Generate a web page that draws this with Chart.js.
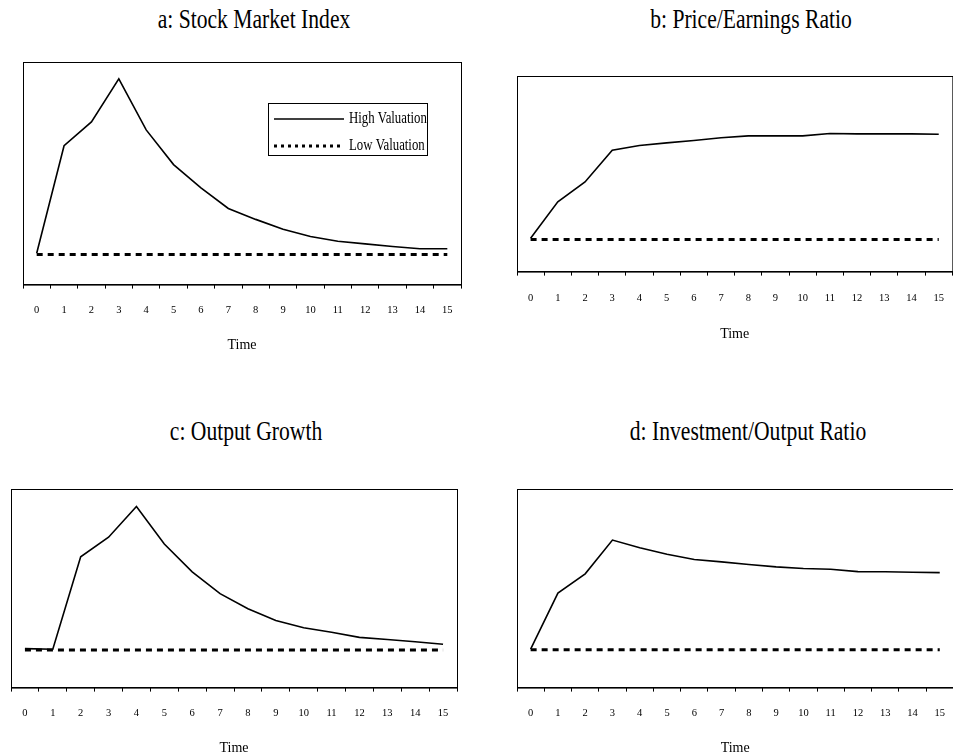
<!DOCTYPE html>
<html>
<head>
<meta charset="utf-8">
<script src="https://cdn.jsdelivr.net/npm/chart.js@4"></script>
<style>
  html, body { margin: 0; padding: 0; background: #fff; }
  body { width: 953px; height: 755px; overflow: hidden; position: relative; }
  .panel { position: absolute; }
  .title {
    position: absolute; width: 400px; text-align: center;
    font-family: "Liberation Serif", "Times New Roman", serif;
    font-size: 27px; line-height: 30px; color: #000; white-space: nowrap;
    transform: scaleX(0.8); transform-origin: center;
  }
</style>
</head>
<body>
<div class="title" style="left:54px; top:4px;">a: Stock Market Index</div>
<div class="title" style="left:551px; top:4px;">b: Price/Earnings Ratio</div>
<div class="title" style="left:46px; top:416px;">c: Output Growth</div>
<div class="title" style="left:548px; top:416px;">d: Investment/Output Ratio</div>

<div class="panel" style="left:0; top:50px; width:480px; height:320px;"><canvas id="chartA"></canvas></div>
<div class="panel" style="left:480px; top:60px; width:480px; height:310px;"><canvas id="chartB"></canvas></div>
<div class="panel" style="left:0; top:475px; width:480px; height:290px;"><canvas id="chartC"></canvas></div>
<div class="panel" style="left:480px; top:475px; width:480px; height:290px;"><canvas id="chartD"></canvas></div>

<script>
// time periods on the x axis
const periods = ['0', '1', '2', '3', '4', '5', '6', '7', '8', '9', '10', '11', '12', '13', '14', '15'];

// a: Stock Market Index
const stockHigh = [14.1, 62.4, 73.1, 92.4, 69.5, 53.9, 43.5, 34.2, 29.3, 24.9, 21.6, 19.5, 18.3, 17.1, 16.1, 16.1];
const stockLow = [13.5, 13.5, 13.5, 13.5, 13.5, 13.5, 13.5, 13.5, 13.5, 13.5, 13.5, 13.5, 13.5, 13.5, 13.5, 13.5];

// b: Price/Earnings Ratio
const peHigh = [17.1, 35.7, 45.8, 62.1, 64.5, 65.8, 67.0, 68.4, 69.4, 69.4, 69.4, 70.6, 70.4, 70.4, 70.4, 70.2];
const peLow = [16.4, 16.4, 16.4, 16.4, 16.4, 16.4, 16.4, 16.4, 16.4, 16.4, 16.4, 16.4, 16.4, 16.4, 16.4, 16.4];

// c: Output Growth
const growthHigh = [19.6, 19.3, 65.9, 75.7, 91.2, 72.3, 58.3, 47.3, 39.7, 33.8, 30.1, 27.9, 25.3, 24.2, 23.1, 21.8];
const growthLow = [18.9, 18.9, 18.9, 18.9, 18.9, 18.9, 18.9, 18.9, 18.9, 18.9, 18.9, 18.9, 18.9, 18.9, 18.9, 18.9];

// d: Investment/Output Ratio
const investHigh = [19.4, 47.6, 57.3, 74.3, 70.4, 67.1, 64.5, 63.3, 62.0, 60.8, 60.0, 59.6, 58.4, 58.3, 58.1, 57.9];
const investLow = [19.1, 19.1, 19.1, 19.1, 19.1, 19.1, 19.1, 19.1, 19.1, 19.1, 19.1, 19.1, 19.1, 19.1, 19.1, 19.1];

const seriesNames = ['High Valuation', 'Low Valuation'];

const serif = '"Liberation Serif", "Times New Roman", serif';
const lowDash = [6, 5];

// box around the plot area
const frame = {
  id: 'frame',
  afterDraw(chart) {
    const { ctx, chartArea: a } = chart;
    ctx.save();
    ctx.strokeStyle = '#000';
    ctx.lineWidth = 1;
    ctx.strokeRect(a.left + 0.5, a.top + 0.5, a.right - a.left, a.bottom - a.top);
    ctx.restore();
  }
};

// boxed legend inside panel a
const innerLegend = {
  id: 'innerLegend',
  afterDraw(chart) {
    if (!chart.options.plugins.innerLegend.show) return;
    const { ctx, chartArea: a } = chart;
    const w = 159, h = 52;
    const x = a.right - 34 - w, y = a.top + 41;
    ctx.save();
    ctx.fillStyle = '#fff';
    ctx.fillRect(x, y, w, h);
    ctx.strokeStyle = '#000';
    ctx.lineWidth = 1;
    ctx.strokeRect(x + 0.5, y + 0.5, w, h);
    ctx.beginPath();
    ctx.rect(x, y, w, h);
    ctx.clip();
    chart.data.datasets.forEach((ds, i) => {
      const ry = y + 16 + i * 27;
      ctx.beginPath();
      ctx.strokeStyle = ds.borderColor;
      ctx.lineWidth = ds.borderWidth;
      ctx.setLineDash(i === 1 ? [3, 4] : []);
      ctx.moveTo(x + 6, ry);
      ctx.lineTo(x + 76, ry);
      ctx.stroke();
      ctx.setLineDash([]);
      ctx.save();
      ctx.translate(x + 81, ry);
      ctx.scale(0.8, 1);
      ctx.fillStyle = '#000';
      ctx.font = '16px ' + serif;
      ctx.textBaseline = 'middle';
      ctx.fillText(ds.label, 0, 0);
      ctx.restore();
    });
    ctx.restore();
  }
};

function makePanel(id, high, low, pad, axis, showLegend) {
  new Chart(document.getElementById(id), {
    type: 'line',
    data: {
      labels: periods,
      datasets: [
        {
          label: seriesNames[0],
          data: high,
          borderColor: '#000',
          borderWidth: 1.6,
          pointRadius: 0,
          tension: 0,
          fill: false
        },
        {
          label: seriesNames[1],
          data: low,
          borderColor: '#000',
          borderWidth: 3,
          borderDash: lowDash,
          borderCapStyle: 'butt',
          pointRadius: 0,
          tension: 0,
          fill: false
        }
      ]
    },
    options: {
      responsive: true,
      maintainAspectRatio: false,
      animation: false,
      layout: { padding: pad },
      plugins: {
        legend: { display: false },
        title: { display: false },
        tooltip: { enabled: false },
        innerLegend: { show: showLegend }
      },
      scales: {
        x: {
          offset: true,
          grid: {
            offset: true,
            drawOnChartArea: false,
            drawTicks: true,
            tickLength: 4,
            color: '#000'
          },
          border: { display: true, color: '#000', width: 1 },
          ticks: {
            color: '#000',
            padding: axis.tickPad,
            maxRotation: 0,
            autoSkip: false,
            font: { family: serif, size: 10.5 }
          },
          title: {
            display: true,
            text: 'Time',
            color: '#000',
            padding: { top: axis.titlePad, bottom: 0 },
            font: { family: serif, size: 14 }
          }
        },
        y: {
          display: false,
          min: 0,
          max: 100
        }
      }
    },
    plugins: [frame, innerLegend]
  });
}

makePanel('chartA', stockHigh, stockLow, { top: 12, left: 23, right: 19, bottom: 16 }, { tickPad: 15, titlePad: 6 }, true);
makePanel('chartB', peHigh, peLow, { top: 16, left: 37, right: 0, bottom: 27 }, { tickPad: 16, titlePad: 6 }, false);
makePanel('chartC', growthHigh, growthLow, { top: 14, left: 11, right: 23, bottom: 8 }, { tickPad: 15, titlePad: 6 }, false);
makePanel('chartD', investHigh, investLow, { top: 14, left: 37, right: 0, bottom: 8 }, { tickPad: 15, titlePad: 6 }, false);
</script>
</body>
</html>
